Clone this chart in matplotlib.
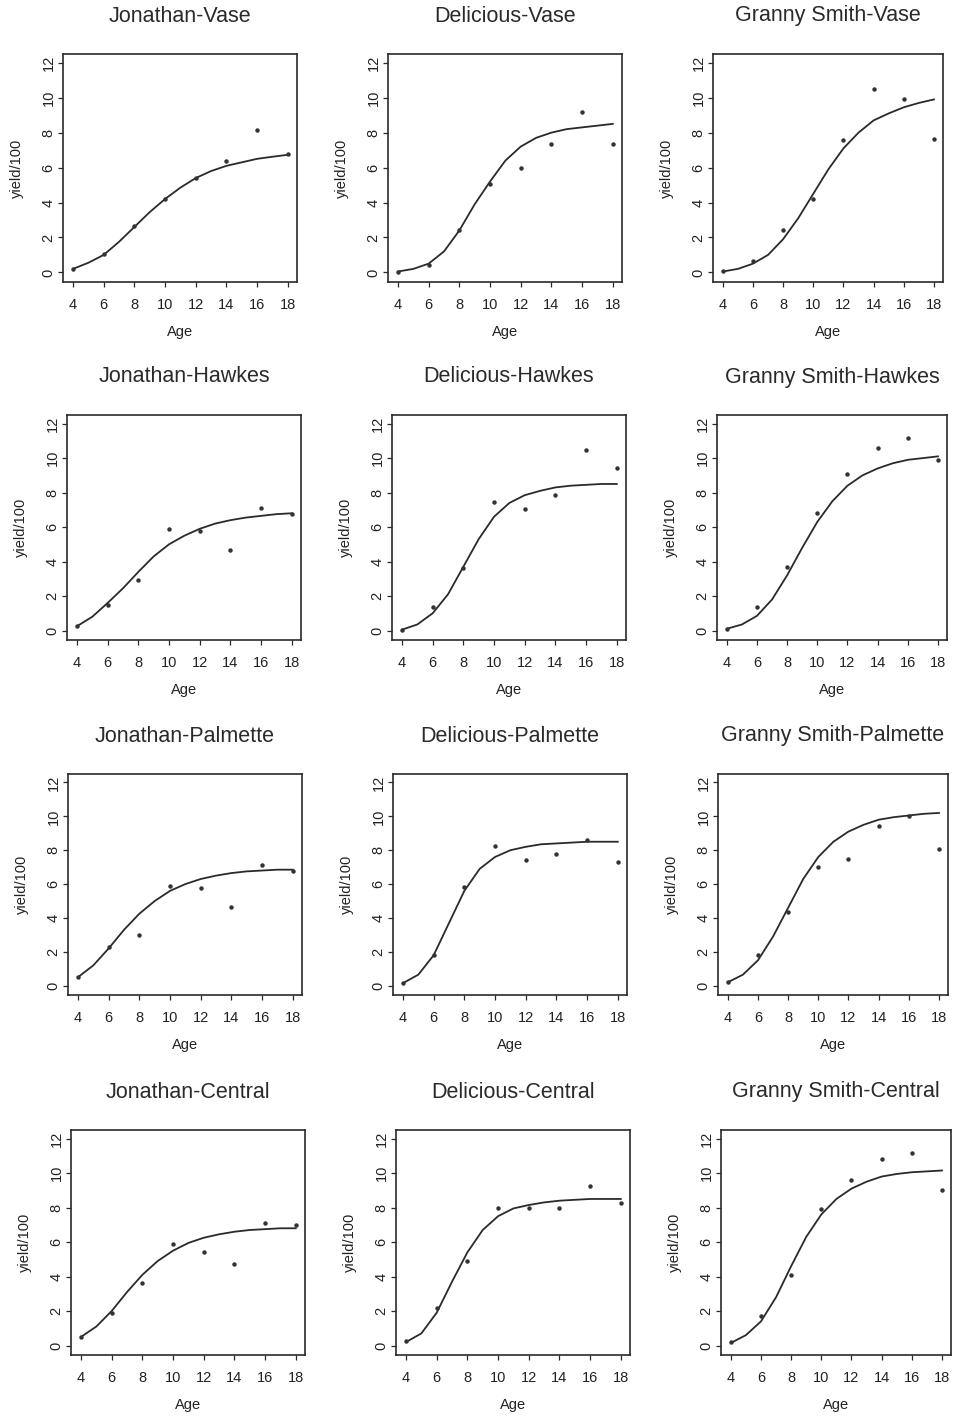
import numpy as np
import matplotlib.pyplot as plt
from matplotlib.transforms import offset_copy

plt.rcParams['font.family'] = ['Liberation Sans', 'DejaVu Sans']

ages = [4, 6, 8, 10, 12, 14, 16, 18]
fit_ages = list(range(4, 19))

jon_vase_pts = [0.2, 1.05, 2.65, 4.2, 5.4, 6.4, 8.15, 6.75]
del_vase_pts = [0.05, 0.45, 2.4, 5.05, 6.0, 7.35, 9.2, 7.35]
gs_vase_pts = [0.1, 0.65, 2.4, 4.2, 7.6, 10.5, 9.95, 7.65]
jon_hawkes_pts = [0.25, 1.5, 2.95, 5.9, 5.75, 4.65, 7.1, 6.75]
del_hawkes_pts = [0.05, 1.35, 3.65, 7.45, 7.05, 7.85, 10.45, 9.4]
gs_hawkes_pts = [0.1, 1.35, 3.7, 6.8, 9.1, 10.6, 11.15, 9.9]
jon_palm_pts = [0.5, 2.3, 3.0, 5.9, 5.75, 4.65, 7.1, 6.75]
del_palm_pts = [0.15, 1.8, 5.8, 8.25, 7.4, 7.75, 8.6, 7.3]
gs_palm_pts = [0.2, 1.8, 4.35, 7.0, 7.5, 9.45, 10.0, 8.05]
jon_central_pts = [0.5, 1.9, 3.6, 5.9, 5.45, 4.75, 7.1, 7.0]
del_central_pts = [0.25, 2.15, 4.9, 8.0, 8.0, 8.0, 9.25, 8.25]
gs_central_pts = [0.2, 1.7, 4.1, 7.9, 9.6, 10.8, 11.15, 9.0]

# fitted curve, read at every year of age
jon_vase_fit = [0.2, 0.55, 1.0, 1.75, 2.6, 3.45, 4.2, 4.85, 5.4, 5.8, 6.1, 6.3, 6.5, 6.62, 6.73]
del_vase_fit = [0.05, 0.2, 0.5, 1.2, 2.4, 3.9, 5.2, 6.4, 7.2, 7.7, 8.0, 8.2, 8.3, 8.4, 8.5]
gs_vase_fit = [0.05, 0.2, 0.5, 1.0, 1.9, 3.1, 4.5, 5.9, 7.1, 8.0, 8.7, 9.1, 9.45, 9.7, 9.9]
jon_hawkes_fit = [0.25, 0.8, 1.6, 2.45, 3.4, 4.3, 5.0, 5.5, 5.9, 6.2, 6.4, 6.55, 6.65, 6.75, 6.8]
del_hawkes_fit = [0.05, 0.35, 1.0, 2.1, 3.7, 5.3, 6.6, 7.4, 7.85, 8.1, 8.3, 8.4, 8.45, 8.5, 8.5]
gs_hawkes_fit = [0.1, 0.35, 0.85, 1.8, 3.2, 4.8, 6.3, 7.5, 8.4, 9.0, 9.4, 9.7, 9.9, 10.0, 10.1]
jon_palm_fit = [0.5, 1.2, 2.2, 3.3, 4.25, 5.0, 5.6, 6.0, 6.3, 6.5, 6.65, 6.75, 6.8, 6.85, 6.85]
del_palm_fit = [0.15, 0.65, 1.8, 3.7, 5.6, 6.9, 7.6, 8.0, 8.2, 8.35, 8.4, 8.45, 8.5, 8.5, 8.5]
gs_palm_fit = [0.2, 0.65, 1.5, 2.9, 4.6, 6.3, 7.6, 8.5, 9.1, 9.5, 9.8, 9.95, 10.05, 10.15, 10.2]
jon_central_fit = [0.5, 1.1, 2.0, 3.1, 4.1, 4.9, 5.5, 5.95, 6.25, 6.45, 6.6, 6.7, 6.75, 6.8, 6.8]
del_central_fit = [0.2, 0.7, 1.9, 3.7, 5.4, 6.7, 7.5, 7.95, 8.15, 8.3, 8.4, 8.45, 8.5, 8.5, 8.5]
gs_central_fit = [0.15, 0.6, 1.4, 2.8, 4.6, 6.3, 7.6, 8.5, 9.1, 9.5, 9.8, 9.95, 10.05, 10.1, 10.15]

varieties = ["Jonathan", "Delicious", "Granny Smith"]
systems = ["Vase", "Hawkes", "Palmette", "Central"]

pts = [[jon_vase_pts, del_vase_pts, gs_vase_pts],
       [jon_hawkes_pts, del_hawkes_pts, gs_hawkes_pts],
       [jon_palm_pts, del_palm_pts, gs_palm_pts],
       [jon_central_pts, del_central_pts, gs_central_pts]]
fits = [[jon_vase_fit, del_vase_fit, gs_vase_fit],
        [jon_hawkes_fit, del_hawkes_fit, gs_hawkes_fit],
        [jon_palm_fit, del_palm_fit, gs_palm_fit],
        [jon_central_fit, del_central_fit, gs_central_fit]]

W, H = 956, 1418
fig = plt.figure(figsize=(W / 100, H / 100), dpi=100)

col_left = [63, 388, 713]
col_w = [234, 234, 230]
row_shift = [0, 4, 5, 8]
row_top = [54, 415, 774, 1130]
row_h = [228, 225, 221, 225]

ink = '#2a2a2a'

for r in range(4):
    for c in range(3):
        left = col_left[c] + row_shift[r]
        w = col_w[c]
        top = row_top[r]
        h = row_h[r]
        ax = fig.add_axes([left / W, 1 - (top + h) / H, w / W, h / H])

        ax.plot(fit_ages, fits[r][c], color=ink, lw=1.3, solid_joinstyle='round')
        ax.plot(ages, pts[r][c], 'o', color='#333333', ms=3.2, mec='none')

        ax.set_xlim(3.35, 18.6)
        ax.set_ylim(-0.55, 12.5)
        ax.set_xticks(ages)
        ax.set_yticks([0, 2, 4, 6, 8, 10, 12])
        ax.tick_params(axis='both', direction='out', length=3.8, width=0.9,
                       colors=ink, labelsize=10.5, labelcolor='#222222')
        ax.tick_params(axis='x', pad=8)
        ax.tick_params(axis='y', pad=1.5)
        for lab in ax.get_yticklabels():
            lab.set_rotation(90)
            lab.set_va('center')
        for sp in ax.spines.values():
            sp.set_color(ink)
            sp.set_linewidth(1.2)

        t = offset_copy(ax.transAxes, fig, x=0, y=38, units='dots')
        ax.text(0.5, 1.0, varieties[c] + "-" + systems[r], transform=t,
                ha='center', va='center', fontsize=15.5, color='#2a2a2a')
        t = offset_copy(ax.transAxes, fig, x=0, y=-50, units='dots')
        ax.text(0.5, 0.0, "Age", transform=t, ha='center', va='center',
                fontsize=10.5, color='#222222')
        t = offset_copy(ax.transAxes, fig, x=-46, y=0, units='dots')
        ax.text(0.0, 0.5, "yield/100", transform=t, ha='center', va='center',
                rotation=90, fontsize=10.5, color='#222222')

fig.savefig("out.png", dpi=100, facecolor='white')
